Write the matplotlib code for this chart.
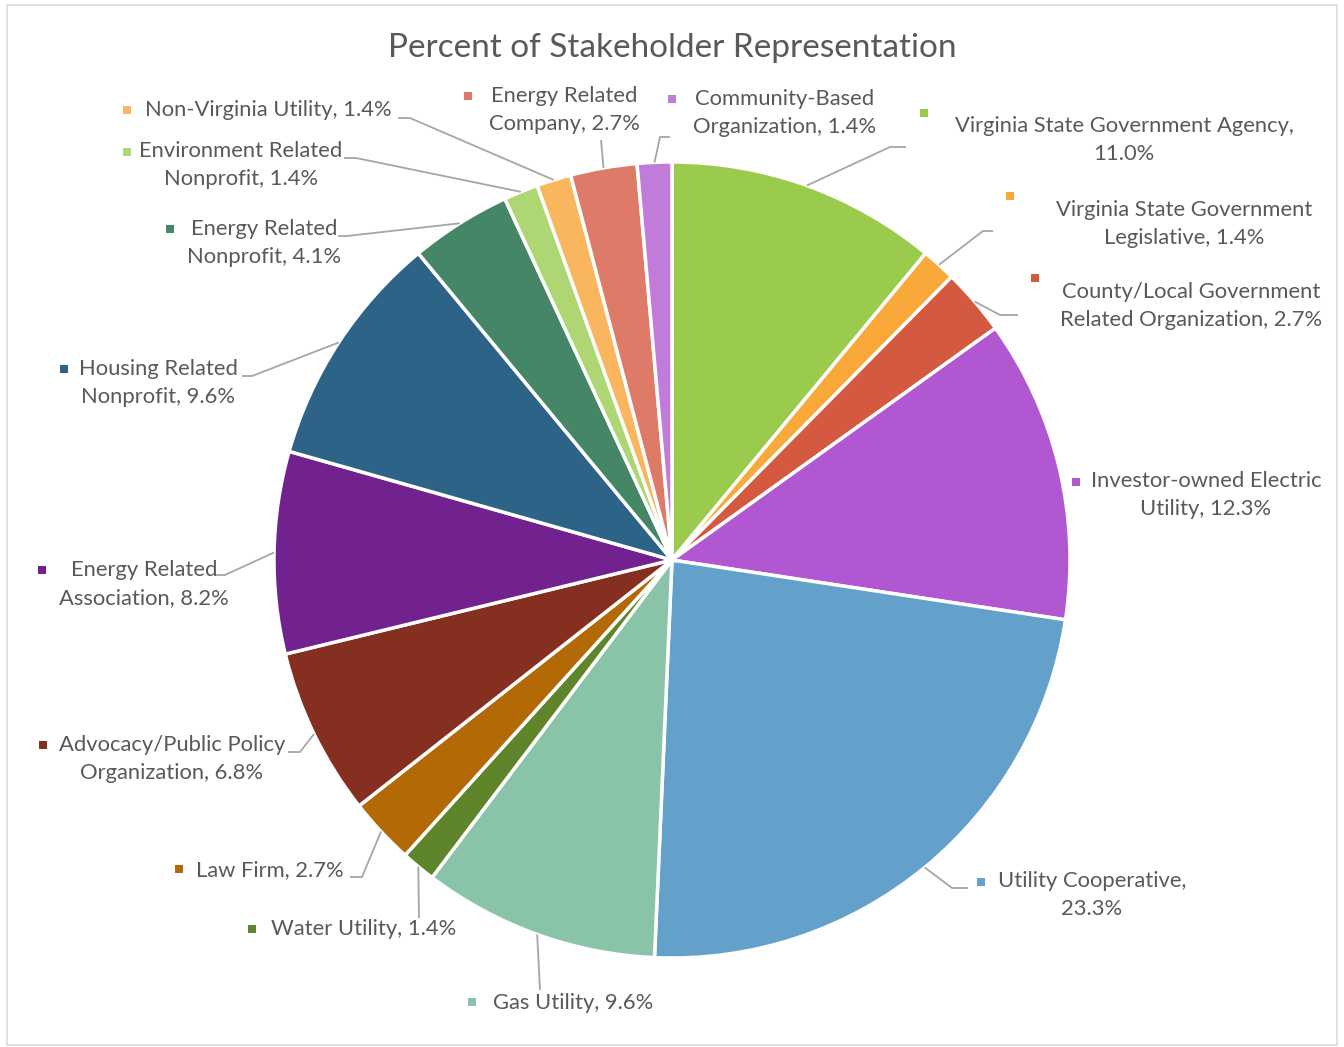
import matplotlib
matplotlib.use("Agg")
import matplotlib.pyplot as plt
import numpy as np
from matplotlib.patches import Rectangle

# ---- data ----
categories = [
    "Virginia State Government Agency", "Virginia State Government Legislative",
    "County/Local Government Related Organization", "Investor-owned Electric Utility",
    "Utility Cooperative", "Gas Utility", "Water Utility", "Law Firm",
    "Advocacy/Public Policy Organization", "Energy Related Association",
    "Housing Related Nonprofit", "Energy Related Nonprofit",
    "Environment Related Nonprofit", "Non-Virginia Utility",
    "Energy Related Company", "Community-Based Organization",
]
values = [11.0, 1.4, 2.7, 12.3, 23.3, 9.6, 1.4, 2.7, 6.8, 8.2, 9.6, 4.1, 1.4, 1.4, 2.7, 1.4]
label_texts = [
    "Virginia State Government Agency,\n11.0%",
    "Virginia State Government\nLegislative, 1.4%",
    "County/Local Government\nRelated Organization, 2.7%",
    "Investor-owned Electric\nUtility, 12.3%",
    "Utility Cooperative,\n23.3%",
    "Gas Utility, 9.6%",
    "Water Utility, 1.4%",
    "Law Firm, 2.7%",
    "Advocacy/Public Policy\nOrganization, 6.8%",
    "Energy Related\nAssociation, 8.2%",
    "Housing Related\nNonprofit, 9.6%",
    "Energy Related\nNonprofit, 4.1%",
    "Environment Related\nNonprofit, 1.4%",
    "Non-Virginia Utility, 1.4%",
    "Energy Related\nCompany, 2.7%",
    "Community-Based\nOrganization, 1.4%",
]
colors = ["#9BCB4D", "#F9A83A", "#D35A41", "#B157D2", "#63A1CB", "#8AC4A8",
          "#5E8529", "#B36A06", "#852F20", "#71228E", "#2E6388", "#458666",
          "#AED672", "#FAB65E", "#DE7B68", "#C07BDB"]
title = "Percent of Stakeholder Representation"

# ---- layout (pixel coordinates, y from top) ----
W, H = 1344, 1047
CX, CY, R = 672, 560, 398
label_pos = [(1124, 140), (1184, 224), (1191, 306), (1206, 495), (1092, 895),
             (573, 1003), (364, 929), (270, 870), (172, 759), (144, 584),
             (158, 383), (264, 243), (241, 165), (268, 110), (564, 110), (785, 113)]
marker_pos = [(924, 113), (1010, 196), (1035, 278), (1076, 482), (981, 882),
              (472, 1002), (252, 929), (179, 869), (43, 745), (42, 570),
              (64, 369), (170, 229), (127, 152), (127, 110), (468, 96), (672, 99)]
leaders = [
    [(890, 147), (906, 147)],
    [(983, 231), (993, 231)],
    [(1000, 315), (1018, 315)],
    None,
    [(952, 888), (968, 888)],
    [(540, 990)],
    [(419, 918)],
    [(362, 877), (350, 877)],
    [(300, 752), (288, 752)],
    [(225, 575), (215, 575)],
    [(252, 376), (242, 376)],
    [(347, 236), (338, 236)],
    [(356, 158), (344, 158)],
    [(410, 118), (398, 118)],
    [(601, 140)],
    [(660, 137), (670, 137)],
]

plt.rcParams['font.family'] = ['Lato', 'DejaVu Sans']
fig = plt.figure(figsize=(W / 100, H / 100), dpi=100)
ax = fig.add_axes([0, 0, 1, 1])

def Y(y):
    return H - y

ax.pie(values, colors=colors, startangle=90, counterclock=False,
       center=(CX, Y(CY)), radius=R,
       wedgeprops=dict(edgecolor="white", linewidth=2.5))
ax.set_xlim(0, W)
ax.set_ylim(0, H)
ax.axis("off")

total = sum(values)
cum = np.cumsum([0] + values[:-1])
txt_color = "#595959"
for i, v in enumerate(values):
    mid = cum[i] + v / 2
    th = np.deg2rad(90 - 360 * mid / total)
    sx, sy = CX + R * np.cos(th), Y(CY) + R * np.sin(th)
    if leaders[i] is not None:
        xs = [sx] + [p[0] for p in leaders[i]]
        ys = [sy] + [Y(p[1]) for p in leaders[i]]
        ax.plot(xs, ys, color="#A6A6A6", lw=1.3, solid_capstyle="butt", zorder=1)
    lx, ly = label_pos[i]
    ax.text(lx, Y(ly), label_texts[i], ha="center", va="center", fontsize=15.8,
            color=txt_color, linespacing=1.45)
    mx, my = marker_pos[i]
    ax.plot([mx], [Y(my)], marker="s", markersize=5.5, color=colors[i],
            markeredgewidth=0, linestyle="none")

ax.text(672, Y(48), title, ha="center", va="center", fontsize=24, color=txt_color)

fig.patches.append(Rectangle((7 / W, 2 / H), (1337 - 7) / W, (1042 - 2) / H,
                             transform=fig.transFigure, fill=False,
                             edgecolor="#D9D9D9", lw=1.2))
fig.savefig("out.png", dpi=100, facecolor="white")
